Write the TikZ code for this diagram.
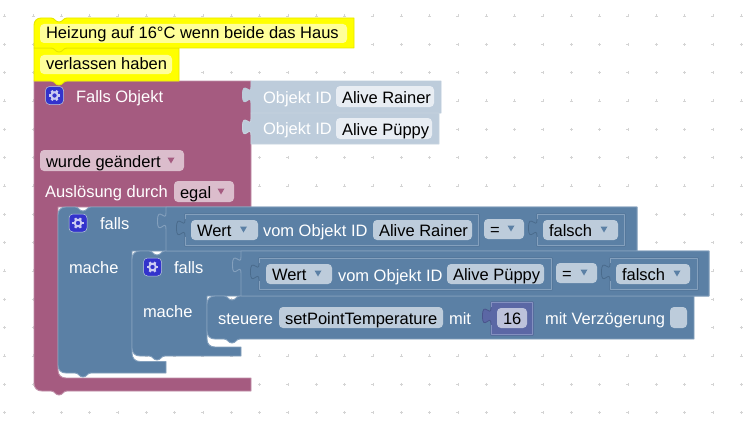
\documentclass[tikz,border=0pt]{standalone}
\usepackage{fontspec}
\setmainfont{Liberation Sans}
\definecolor{bl}{HTML}{5B80A5}
\definecolor{blE}{HTML}{84A0BD}
\definecolor{blD}{HTML}{4A6B8C}
\definecolor{blF}{HTML}{BDCCDB}
\definecolor{blL}{HTML}{E8EDF3}
\definecolor{ma}{HTML}{A55B80}
\definecolor{maE}{HTML}{C08FA8}
\definecolor{maF}{HTML}{DBBDCC}
\definecolor{ye}{HTML}{FFFF00}
\definecolor{yeE}{HTML}{E6E600}
\definecolor{yeF}{HTML}{FFFF99}
\definecolor{nu}{HTML}{5B67A5}
\definecolor{nuE}{HTML}{8490C0}
\definecolor{nuD}{HTML}{4A548C}
\definecolor{nuF}{HTML}{BDC2DB}
\definecolor{ic}{HTML}{3333CC}
\definecolor{dot}{HTML}{D4D4D4}
\tikzset{
  x=1pt,y=-1pt,
  blk/.style={line width=0.9pt,line join=round},
  blueblk/.style={blk,fill=bl,draw=blE},
  fieldbox/.style={rectangle,rounded corners=4pt,minimum width=0pt,inner sep=0pt,outer sep=0pt},
  txt/.style={inner sep=0pt,outer sep=0pt,yshift=-1pt,font=\fontsize{16.5}{19}\selectfont},
  wh/.style={txt,text=white,anchor=base west},
  bk/.style={txt,text=black,anchor=base west},
}
% notch, left to right, 16 wide, dipping 4 down
\def\nlr#1#2{-- (#1,#2) .. controls ({#1+4},#2) and ({#1+4},{#2+4}) .. ({#1+8},{#2+4}) .. controls ({#1+12},{#2+4}) and ({#1+12},#2) .. ({#1+16},#2)}
% notch, right to left
\def\nrl#1#2{-- ({#1+16},#2) .. controls ({#1+12},#2) and ({#1+12},{#2+4}) .. ({#1+8},{#2+4}) .. controls ({#1+4},{#2+4}) and ({#1+4},#2) .. (#1,#2)}
% puzzle tab on a left edge, going down, starting at y
\def\pz#1#2{-- (#1,#2) .. controls (#1,{#2+10}) and ({#1-8.5},{#2-8}) .. ({#1-8.5},{#2+8}) .. controls ({#1-8.5},{#2+24}) and (#1,{#2+5}) .. (#1,{#2+16})}
% value block: name x1 y1 x2 y2 fill edge
\newcommand\valblk[7]{%
  \path[blk,fill=#6,draw=#7] (#2,#3) \pz{#2}{#3+6} -- (#2,#5) -- (#4,#5) -- (#4,#3) -- cycle;}
% plugged value block: name x1 y1 x2 y2 fill dark edge, light edge
\newcommand\valsock[8]{%
  \path[line width=.8pt,line join=round,fill=#6,draw=#7] (#2,#3) \pz{#2}{#3+6} -- (#2,#5) -- (#4,#5) -- (#4,#3) -- cycle;
  \path[line width=.7pt,line join=round,draw=#8] ({#2+.8},{#3+5}) -- ({#2+.8},{#3+.8}) -- ({#4-.8},{#3+.8}) -- ({#4-.8},{#5-.8}) -- ({#2+.8},{#5-.8}) -- ({#2+.8},{#3+23});}
% field: name x1 y1 x2 y2 fill text
\newcommand\fld[7]{%
  \node[fieldbox,fill=#6,minimum width={(#4-#2)*1pt},minimum height={(#5-#3)*1pt},anchor=north west] (#1) at (#2,#3) {};
  \node[bk] (#1t) at ({#2+6},{#5-5}) {#7};}
% dropdown arrow
\newcommand\arr[3]{\fill[#3] ({#1-3.5},{#2-3}) -- ({#1+3.5},{#2-3}) -- (#1,{#2+3}) -- cycle;}
% icon
\newcommand\icon[3]{%
  \node[fieldbox,fill=ic,draw=blF,line width=.5pt,minimum width=18pt,minimum height=18pt] (#3) at (#1,#2) {};
  \draw[white!75!ic,line width=1.9pt] (#1,#2) circle (3.3pt);
  \foreach \a in {0,60,...,300}{\draw[white!75!ic,line width=2.4pt] ({#1+3.5*cos(\a)},{#2+3.5*sin(\a)}) -- ({#1+5.6*cos(\a)},{#2+5.6*sin(\a)});}}
\begin{document}
\begin{tikzpicture}
\useasboundingbox (0,0) rectangle (752,428);
\fill[white] (0,0) rectangle (752,428);
% grid
\foreach \i in {-1,...,25}{\foreach \j in {0,...,14}{
  \pgfmathsetmacro\gx{33+28.33*\i}\pgfmathsetmacro\gy{16+28.33*\j}
  \draw[dot,line width=.8pt] ({\gx-1.5},\gy) -- ({\gx+1.5},\gy) ({\gx},{\gy-1.5}) -- ({\gx},{\gy+1.5});
}}
% maroon block
\path[blk,fill=ma,draw=maE] (34,81) -- (34,383) .. controls (34,388) and (37,391) .. (42,391) \nlr{51}{391} -- (251,391) -- (251,378) -- (66,378) .. controls (61,378) and (58,375) .. (58,370) -- (58,207) -- (251,207) -- (251,81) -- cycle;
% objekt id blocks
\path[blk,fill=blF,draw=blF] (251,81) \pz{251}{87} -- (251,113) -- (441,113) -- (441,81) -- cycle;
\path[blk,fill=blF,draw=blF!85!white] (251,113) \pz{251}{119} -- (251,144) -- (439,144) -- (439,113) -- cycle;
% yellow comment blocks
\path[blk,fill=ye,draw=yeE] (34,48) -- (34,73) -- (34,81) \nlr{51}{81} -- (179,81) -- (179,48) -- cycle;
\path[blk,fill=ye,draw=yeE] (34,25) -- (34,48) \nlr{51}{48} -- (354,48) -- (354,18) \nrl{51}{18} -- (41,18) .. controls (37,18) and (34,21) .. (34,25) -- cycle;
\fld{c1}{40}{24}{347}{43}{yeF}{Heizung auf 16°C wenn beide das Haus}
\fld{c2}{40}{55}{172}{74}{yeF}{verlassen haben}
% outer falls
\path[blueblk] (58,215) -- (58,365) .. controls (58,370) and (61,373) .. (66,373) \nlr{75}{373} -- (166,373) -- (166,361.5) -- (140,361.5) .. controls (135,361.5) and (132,358) .. (132,353) -- (132,251) -- (637,251) -- (637,207) \nrl{75}{207} -- (66,207) .. controls (61,207) and (58,210) .. (58,215) -- cycle;
% inner falls
\path[blueblk] (132,259) -- (132,348) .. controls (132,353) and (135,356) .. (140,356) \nlr{149}{356} -- (241,356) -- (241,347) -- (215,347) .. controls (210,347) and (207,344) .. (207,339) -- (207,296) -- (709,296) -- (709,251) \nrl{149}{251} -- (140,251) .. controls (135,251) and (132,254) .. (132,259) -- cycle;
% steuere
\path[blueblk] (207,304) -- (207,331) .. controls (207,336) and (210,339) .. (215,339) \nlr{224}{339} -- (694,339) -- (694,296) \nrl{224}{296} -- (215,296) .. controls (210,296) and (207,299) .. (207,304) -- cycle;
% compare blocks
\valblk{cmpa}{166}{207}{637}{251}{bl}{blE}
\valblk{cmpb}{241}{251}{709}{296}{bl}{blE}
% value blocks row 1
\valsock{wa}{185}{214}{479}{246}{bl}{blD}{blE}
\valsock{fa}{537}{214}{625}{246}{bl}{blD}{blE}
% value blocks row 2
\valsock{wb}{259}{258}{552}{290}{bl}{blD}{blE}
\valsock{fb}{610}{258}{698}{290}{bl}{blD}{blE}
% number block
\valsock{nb}{491}{302}{533}{335}{nu}{nuD}{nuE}
% maroon texts
\icon{54.5}{95.5}{ia}
\node[wh] (t1) at (76,101.5) {Falls Objekt};
\node[wh] (t2) at (263,102) {Objekt ID};
\fld{o1}{336}{86}{434}{107}{blL}{Alive Rainer}
\node[wh] (t3) at (263,133) {Objekt ID};
\fld{o2}{336}{118}{432}{139}{blL}{Alive Püppy}
\fld{d1}{40}{150}{184}{171}{maF}{wurde geändert}
\arr{171}{160.5}{ma}
\node[wh] (t4) at (45,196.5) {Auslösung durch};
\fld{d2}{174}{181}{234}{202}{maF}{egal}
\arr{221}{191.5}{ma}
% row 1
\icon{78}{223}{ib}
\node[wh] (t5) at (100,228.5) {falls};
\node[wh] (t6) at (69,272) {mache};
\fld{e1}{191}{220}{258}{240}{blF}{Wert}
\arr{243.5}{229.5}{bl}
\node[wh] (t7) at (263,235.5) {vom Objekt ID};
\fld{e2}{373}{220}{472}{240}{blF}{Alive Rainer}
\fld{e3}{484}{219}{524}{239}{blF}{=}
\arr{511}{228.5}{bl}
\fld{e4}{543}{220}{618}{240}{blF}{falsch}
\arr{604}{229.5}{bl}
% row 2
\icon{152.5}{267}{ic}
\node[wh] (t8) at (174,272.5) {falls};
\node[wh] (t9) at (143,316) {mache};
\fld{g1}{266}{264}{332}{284}{blF}{Wert}
\arr{318}{273.5}{bl}
\node[wh] (t10) at (338,280) {vom Objekt ID};
\fld{g2}{447}{264}{544}{284}{blF}{Alive Püppy}
\fld{g3}{556}{263}{597}{283}{blF}{=}
\arr{584}{272.5}{bl}
\fld{g4}{616}{264}{690}{284}{blF}{falsch}
\arr{677}{273.5}{bl}
% row 3
\node[wh] (t11) at (218,323.5) {steuere};
\fld{h1}{279}{307}{443}{328}{blF}{setPointTemperature}
\node[wh] (t12) at (449,323.5) {mit};
\fld{h2}{497}{308}{527}{328}{nuF}{16}
\node[wh] (t13) at (545,323.5) {mit Verzögerung};
\node[fieldbox,fill=blF,minimum width=17pt,minimum height=21pt,anchor=north west] (chk) at (670,307) {};
\end{tikzpicture}
\end{document}
